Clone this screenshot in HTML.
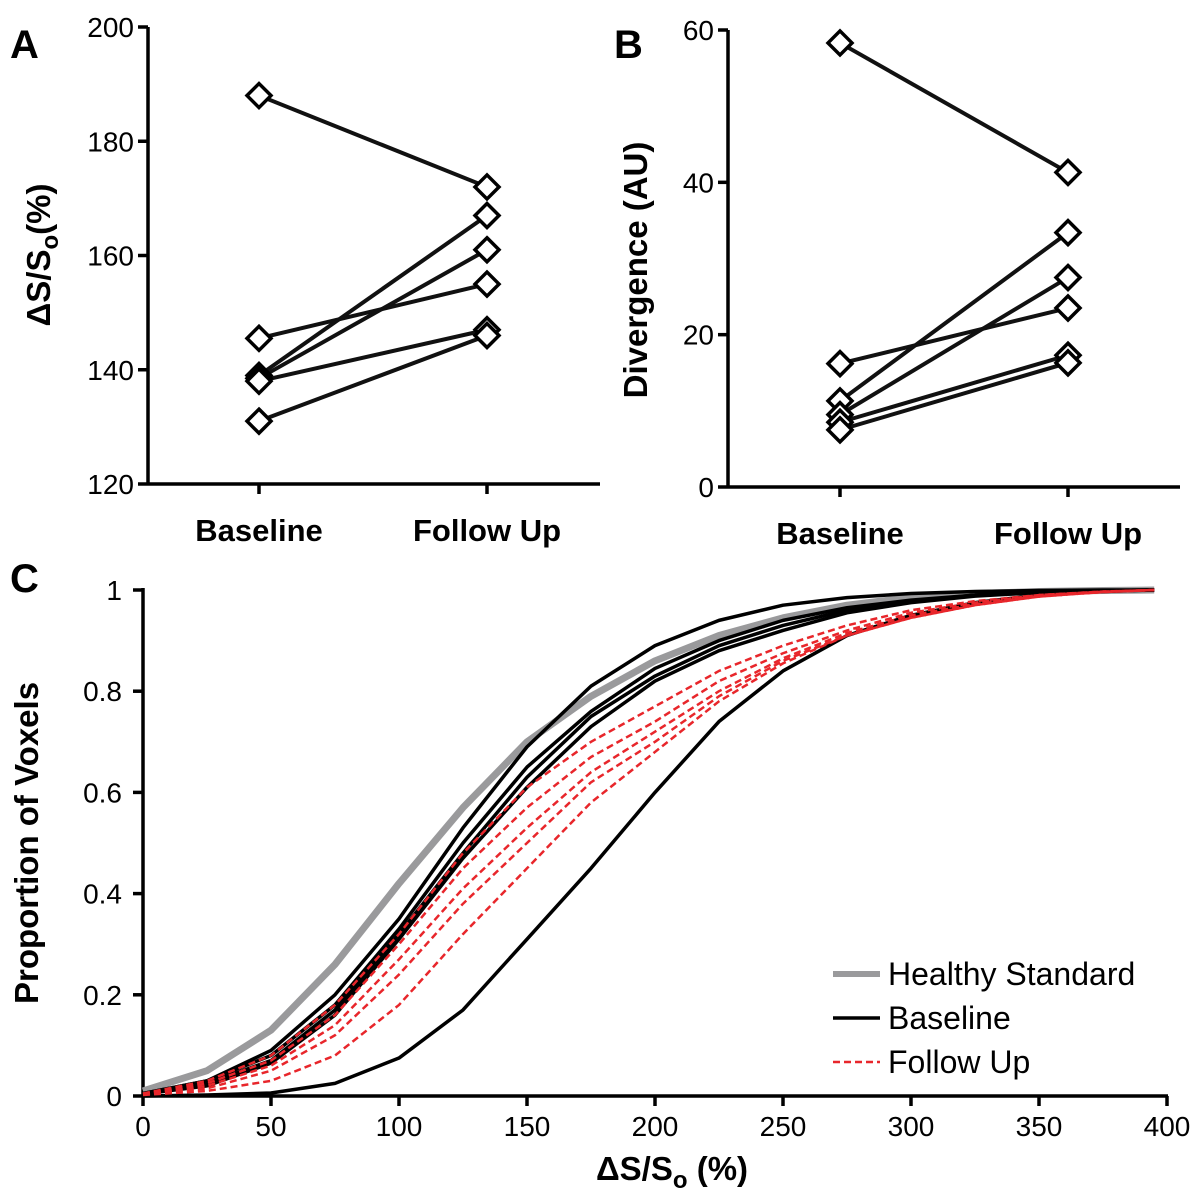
<!DOCTYPE html>
<html><head><meta charset="utf-8"><style>
body{margin:0;background:#fff}
svg{display:block;font-family:"Liberation Sans",Arial,sans-serif}
</style></head><body>
<svg id="chart" width="1200" height="1200" viewBox="0 0 1200 1200"></svg>
<script>
// Panel A data
const catsAB = ["Baseline","Follow Up"];
const aBase = [188, 145.5, 139, 138.5, 138, 131];
const aFollow = [172, 155, 167, 161, 147, 146];
const aTicks = [120,140,160,180,200];
// Panel B data
const bBase = [58.3, 16.2, 11.3, 9.5, 8.5, 7.5];
const bFollow = [41.3, 23.5, 33.4, 27.5, 17.3, 16.3];
const bTicks = [0,20,40,60];
// Panel C data
const cX = [0,25,50,75,100,125,150,175,200,225,250,275,300,325,350,375,395];
const healthy = [0.01,0.05,0.13,0.26,0.42,0.57,0.70,0.79,0.86,0.91,0.945,0.97,0.985,0.993,0.997,0.999,1];
const base1 = [0.005,0.03,0.09,0.20,0.35,0.53,0.69,0.81,0.89,0.94,0.97,0.985,0.993,0.997,0.999,1,1];
const base2 = [0.005,0.03,0.08,0.18,0.33,0.50,0.65,0.76,0.845,0.90,0.94,0.965,0.98,0.99,0.996,0.999,1];
const base3 = [0.004,0.025,0.07,0.17,0.32,0.48,0.63,0.75,0.83,0.89,0.93,0.96,0.978,0.99,0.996,0.999,1];
const base4 = [0.004,0.02,0.065,0.16,0.31,0.47,0.61,0.73,0.82,0.88,0.92,0.955,0.975,0.988,0.995,0.999,1];
const base5 = [0,0.002,0.006,0.025,0.075,0.17,0.31,0.45,0.60,0.74,0.84,0.91,0.95,0.975,0.99,0.997,1];
const fol1 = [0.005,0.03,0.08,0.18,0.32,0.48,0.61,0.70,0.77,0.84,0.89,0.93,0.96,0.978,0.99,0.997,1];
const fol2 = [0.004,0.025,0.07,0.16,0.30,0.45,0.57,0.67,0.74,0.82,0.875,0.92,0.955,0.975,0.99,0.997,1];
const fol3 = [0.004,0.02,0.06,0.14,0.27,0.41,0.53,0.64,0.72,0.80,0.865,0.915,0.95,0.972,0.988,0.996,1];
const fol4 = [0.003,0.015,0.05,0.12,0.24,0.38,0.50,0.62,0.70,0.79,0.86,0.91,0.945,0.97,0.987,0.996,1];
const fol5 = [0.002,0.01,0.03,0.08,0.18,0.32,0.45,0.58,0.68,0.78,0.855,0.91,0.945,0.97,0.987,0.996,1];
const cXTicks = [0,50,100,150,200,250,300,350,400];
const cYTicks = [0,0.2,0.4,0.6,0.8,1];
const cYLabels = ["0","0.2","0.4","0.6","0.8","1"];

const svg = document.getElementById('chart');
const NS = 'http://www.w3.org/2000/svg';
function el(tag, attrs, text){
  const e = document.createElementNS(NS, tag);
  for (const k in attrs) e.setAttribute(k, attrs[k]);
  if (text !== undefined) e.textContent = text;
  svg.appendChild(e);
  return e;
}

function slopePanel(p){
  const y = v => p.y0 + (v - p.vmin)/(p.vmax - p.vmin)*(p.y1 - p.y0);
  const xs = [p.xb, p.xf];
  let e = el('line',{x1:p.ax,y1:p.y1,x2:p.ax,y2:p.y0,stroke:'#000','stroke-width':3.5});
  
  
  e = el('line',{x1:p.ax,y1:p.y0,x2:p.axEnd,y2:p.y0,stroke:'#000','stroke-width':3.5});
  
  
  p.ticks.forEach(t=>{
    const ty=y(t);
    let l = el('line',{x1:p.ax-10,y1:ty,x2:p.ax,y2:ty,stroke:'#000','stroke-width':3.5});
    
    
    let tx = el('text',{x:p.ax-14,y:ty+10,'text-anchor':'end','font-size':28,fill:'#000'},String(t));
    
    
  });
  catsAB.forEach((c,i)=>{
    let l = el('line',{x1:xs[i],y1:p.y0,x2:xs[i],y2:p.y0+10,stroke:'#000','stroke-width':3.5});
    
    
    let tx = el('text',{x:xs[i],y:p.y0+57,'text-anchor':'middle','font-size':31,'font-weight':'bold'},c);
    
    
  });
  p.base.forEach((b,i)=>{
    const f = p.follow[i];
    let l = el('line',{x1:xs[0],y1:y(b),x2:xs[1],y2:y(f),stroke:'#111','stroke-width':4});
    
    
  });
  p.base.forEach((b,i)=>{
    [[xs[0],b],[xs[1],p.follow[i]]].forEach(([cx,v])=>{
      const cy=y(v), r=12;
      let m = el('polygon',{points:`${cx},${cy-r} ${cx+r},${cy} ${cx},${cy+r} ${cx-r},${cy}`,fill:'#fff',stroke:'#000','stroke-width':3.5});
      
      
    });
  });
}

slopePanel({id:'panel-a',ax:148,axEnd:600,y0:484,y1:27,vmin:120,vmax:200,xb:259,xf:487,ticks:aTicks,base:aBase,follow:aFollow});
slopePanel({id:'panel-b',ax:728,axEnd:1180,y0:487,y1:30,vmin:0,vmax:60,xb:840,xf:1068,ticks:bTicks,base:bBase,follow:bFollow});

let t;
t = el('text',{x:10,y:58,'font-size':40,'font-weight':'bold'},'A');
 
t = el('text',{x:614,y:58,'font-size':40,'font-weight':'bold'},'B');
 
t = el('text',{x:10,y:592,'font-size':40,'font-weight':'bold'},'C');
 

t = el('text',{x:0,y:0,'font-size':33,'font-weight':'bold','text-anchor':'middle',transform:'translate(50,255) rotate(-90)'});
t.innerHTML = 'ΔS/S<tspan font-size="24" dy="8">o</tspan><tspan dy="-8">(%)</tspan>';
 
t = el('text',{x:0,y:0,'font-size':33,'font-weight':'bold','text-anchor':'middle',transform:'translate(647,270) rotate(-90)'},'Divergence  (AU)');
 

// Panel C
const cx = v => 143 + v/400*1024;
const cy = v => 1096 - v*506;
let e = el('line',{x1:143,y1:588,x2:143,y2:1097,stroke:'#000','stroke-width':3.5});
 
e = el('line',{x1:142,y1:1096,x2:1168,y2:1096,stroke:'#000','stroke-width':3.5});
 
cYTicks.forEach((v,i)=>{
  let l = el('line',{x1:133,y1:cy(v),x2:143,y2:cy(v),stroke:'#000','stroke-width':3.5});
   
  let tx = el('text',{x:122,y:cy(v)+10,'text-anchor':'end','font-size':28},cYLabels[i]);
   
});
cXTicks.forEach(v=>{
  let l = el('line',{x1:cx(v),y1:1096,x2:cx(v),y2:1106,stroke:'#000','stroke-width':3.5});
   
  let tx = el('text',{x:cx(v),y:1136,'text-anchor':'middle','font-size':28},String(v));
   
});
t = el('text',{x:0,y:0,'font-size':33,'font-weight':'bold','text-anchor':'middle',transform:'translate(38,843) rotate(-90)'},'Proportion of Voxels');
 
t = el('text',{x:672,y:1180,'font-size':33,'font-weight':'bold','text-anchor':'middle'});
t.innerHTML = 'ΔS/S<tspan font-size="24" dy="8">o</tspan><tspan dy="-8"> (%)</tspan>';
 

function curve(vals, style, name){
  const pts = vals.map((v,i)=>cx(cX[i])+','+cy(v)).join(' ');
  const p = el('polyline',Object.assign({points:pts,fill:'none','stroke-linejoin':'round'},style));
  
  
}
curve(healthy,{stroke:'#9a9a9c','stroke-width':7},'healthy-standard-curve');
[base1,base2,base3,base4,base5].forEach(v=>curve(v,{stroke:'#000','stroke-width':3.5},'baseline-curve'));
[fol1,fol2,fol3,fol4,fol5].forEach(v=>curve(v,{stroke:'#e8262b','stroke-width':2.5,'stroke-dasharray':'7,4'},'follow-up-curve'));

// legend
const leg = [['Healthy Standard',{stroke:'#9a9a9c','stroke-width':6}],['Baseline',{stroke:'#000','stroke-width':3.5}],['Follow Up',{stroke:'#e8262b','stroke-width':2.5,'stroke-dasharray':'7,4'}]];
leg.forEach((d,i)=>{
  const ly = 974 + i*44;
  let l = el('line',Object.assign({x1:833,y1:ly,x2:880,y2:ly},d[1]));
   
  let tx = el('text',{x:888,y:ly+11,'font-size':32},d[0]);
   
});
</script>
</body></html>
